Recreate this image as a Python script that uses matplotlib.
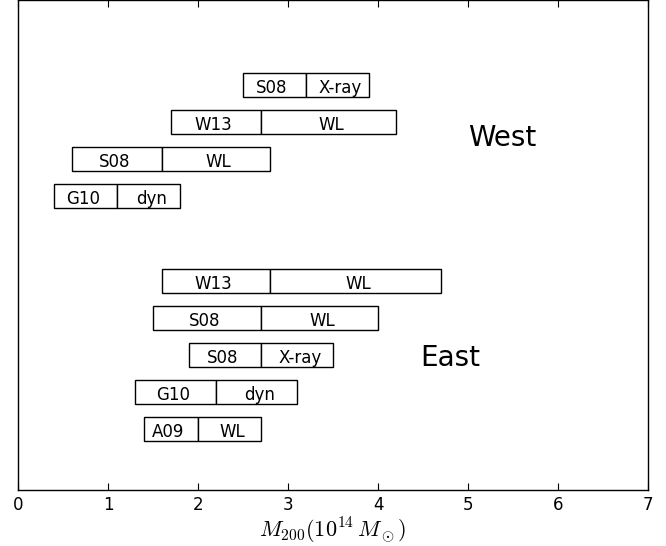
import matplotlib
matplotlib.use("Agg")
import matplotlib.pyplot as plt

# mass estimates (1e14 Msun): lower edge, split point, upper edge
west_refs = ["G10", "S08", "W13", "S08"]
west_methods = ["dyn", "WL", "WL", "X-ray"]
west_lo = [0.4, 0.6, 1.7, 2.5]
west_mid = [1.1, 1.6, 2.7, 3.2]
west_hi = [1.8, 2.8, 4.2, 3.9]

east_refs = ["A09", "G10", "S08", "S08", "W13"]
east_methods = ["WL", "dyn", "X-ray", "WL", "WL"]
east_lo = [1.4, 1.3, 1.9, 1.5, 1.6]
east_mid = [2.0, 2.2, 2.7, 2.7, 2.8]
east_hi = [2.7, 3.1, 3.5, 4.0, 4.7]

plt.rcParams["mathtext.fontset"] = "cm"
plt.rcParams["font.family"] = "DejaVu Sans"

fig = plt.figure(figsize=(6.66, 5.46), dpi=100)
ax = fig.add_axes([18 / 666, 56 / 546, 630 / 666, 490 / 546])


def draw_group(refs, methods, lo, mid, hi, y0):
    ys = [y0 + i for i in range(len(refs))]
    w1 = [m - l for l, m in zip(lo, mid)]
    w2 = [h - m for m, h in zip(mid, hi)]
    ax.barh(ys, w1, left=lo, height=0.67, facecolor="white", edgecolor="black", linewidth=1)
    ax.barh(ys, w2, left=mid, height=0.67, facecolor="white", edgecolor="black", linewidth=1)
    for y, r, m, l, c, h in zip(ys, refs, methods, lo, mid, hi):
        ax.text((l + c) / 2 - 0.03, y - 0.09, r, ha="center", va="center", fontsize=12)
        ax.text((c + h) / 2 + 0.03, y - 0.09, m, ha="center", va="center", fontsize=12)


draw_group(east_refs, east_methods, east_lo, east_mid, east_hi, 1.0)
draw_group(west_refs, west_methods, west_lo, west_mid, west_hi, 7.3)

ax.text(5.38, 8.86, "West", ha="center", va="center", fontsize=20)
ax.text(4.8, 2.92, "East", ha="center", va="center", fontsize=20)

ax.set_xlim(0, 7)
ax.set_ylim(-0.65, 12.6)
ax.set_yticks([])
ax.tick_params(axis="x", direction="in", top=True, length=5, labelsize=12, pad=4)
ax.set_xlabel(r"$M_{200}(10^{14}\,M_\odot)$", fontsize=16, labelpad=2)
for s in ax.spines.values():
    s.set_linewidth(1)

fig.savefig("out.png", dpi=100)
